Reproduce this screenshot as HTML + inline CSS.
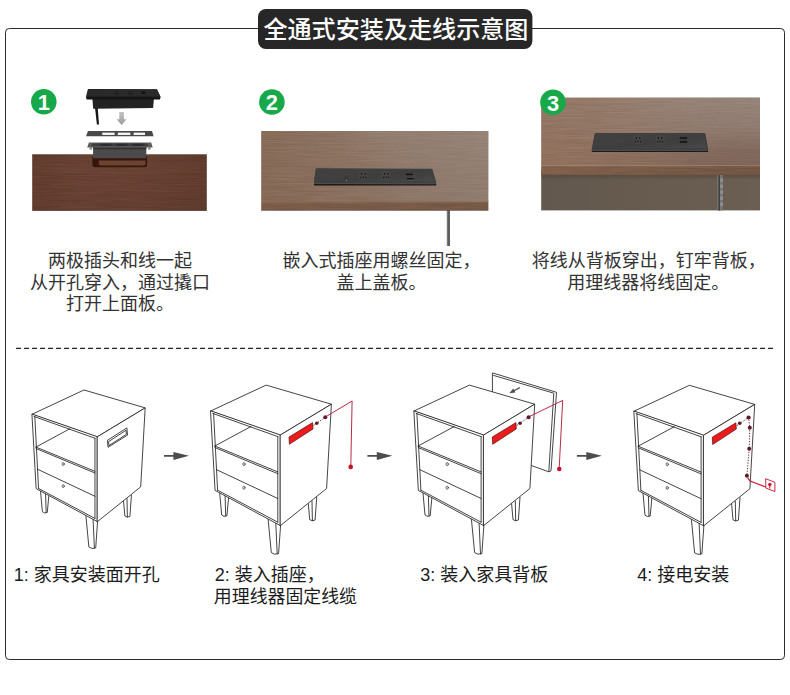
<!DOCTYPE html>
<html lang="zh-CN">
<head>
<meta charset="utf-8">
<title>全通式安装及走线示意图</title>
<style>
html,body{margin:0;padding:0;background:#ffffff}
body{width:790px;height:695px;position:relative;overflow:hidden;font-family:"Liberation Sans",sans-serif}
svg.art{position:absolute;left:0;top:0;display:block}
svg.art text{font-family:"Liberation Sans","Noto Sans CJK SC",sans-serif}
</style>
</head>
<body>
<svg class="art" width="790" height="695" viewBox="0 0 790 695" role="img" aria-label="全通式安装及走线示意图">
<defs>
<filter id="grain" x="0" y="0" width="100%" height="100%">
  <feTurbulence type="fractalNoise" baseFrequency="0.03 1.3" numOctaves="2" seed="7" result="n"/>
  <feColorMatrix in="n" type="matrix" values="0 0 0 0 0  0 0 0 0 0  0 0 0 0 0  1.4 0 0 0 -0.45"/>
  <feComposite in2="SourceGraphic" operator="in"/>
</filter>
<filter id="grainL" x="0" y="0" width="100%" height="100%">
  <feTurbulence type="fractalNoise" baseFrequency="0.02 1.1" numOctaves="2" seed="23" result="n"/>
  <feColorMatrix in="n" type="matrix" values="0 0 0 0 1  0 0 0 0 1  0 0 0 0 1  0 1.4 0 0 -0.45"/>
  <feComposite in2="SourceGraphic" operator="in"/>
</filter>
<filter id="soft" x="-10%" y="-10%" width="120%" height="120%"><feGaussianBlur stdDeviation="0.45"/></filter>
<filter id="soft2" x="-10%" y="-30%" width="120%" height="160%"><feGaussianBlur stdDeviation="0.9"/></filter>
<linearGradient id="w1" x1="0" y1="0" x2="1" y2="0">
  <stop offset="0" stop-color="#643d2e"/><stop offset="0.3" stop-color="#6b4233"/>
  <stop offset="0.65" stop-color="#6a4132"/><stop offset="1" stop-color="#623c2d"/>
</linearGradient>
<linearGradient id="w1v" x1="0" y1="0" x2="0" y2="1">
  <stop offset="0" stop-color="#000" stop-opacity="0.05"/><stop offset="0.2" stop-color="#000" stop-opacity="0"/>
  <stop offset="1" stop-color="#000" stop-opacity="0.04"/>
</linearGradient>
<linearGradient id="w2" x1="0" y1="0" x2="1" y2="0">
  <stop offset="0" stop-color="#866854"/><stop offset="0.35" stop-color="#8a6e5c"/><stop offset="0.65" stop-color="#90796a"/><stop offset="1" stop-color="#937f72"/>
</linearGradient>
<linearGradient id="w2e" x1="0" y1="0" x2="1" y2="0">
  <stop offset="0" stop-color="#7f604c"/><stop offset="1" stop-color="#7a5c48"/>
</linearGradient>
<linearGradient id="w3" x1="0" y1="0" x2="1" y2="0">
  <stop offset="0" stop-color="#91705c"/><stop offset="0.45" stop-color="#8c6e5c"/><stop offset="0.7" stop-color="#856a5c"/><stop offset="1" stop-color="#82695c"/>
</linearGradient>
<linearGradient id="w3e" x1="0" y1="0" x2="1" y2="0">
  <stop offset="0" stop-color="#86644f"/><stop offset="0.5" stop-color="#7f5f4b"/><stop offset="1" stop-color="#785a47"/>
</linearGradient>
<linearGradient id="w3b" x1="0" y1="0" x2="1" y2="0">
  <stop offset="0" stop-color="#63584d"/><stop offset="0.6" stop-color="#685c50"/><stop offset="1" stop-color="#6b5f53"/>
</linearGradient>
<linearGradient id="fadeL" x1="0" y1="0" x2="1" y2="0">
  <stop offset="0" stop-color="#fff" stop-opacity="1"/><stop offset="0.45" stop-color="#fff" stop-opacity="0.8"/><stop offset="0.8" stop-color="#fff" stop-opacity="0"/>
</linearGradient>
<linearGradient id="shd" x1="0" y1="0" x2="0" y2="1">
  <stop offset="0" stop-color="#2a201a" stop-opacity="0.25"/><stop offset="1" stop-color="#2a201a" stop-opacity="0"/>
</linearGradient>
<linearGradient id="tone" x1="0" y1="0" x2="0" y2="1">
  <stop offset="0" stop-color="#a89a90" stop-opacity="0.62"/><stop offset="0.45" stop-color="#a89a90" stop-opacity="0.42"/>
  <stop offset="0.8" stop-color="#a89a90" stop-opacity="0.05"/><stop offset="1" stop-color="#a89a90" stop-opacity="0"/>
</linearGradient>
<linearGradient id="tone2" x1="0" y1="0" x2="0" y2="1">
  <stop offset="0" stop-color="#a39488" stop-opacity="0.40"/><stop offset="0.5" stop-color="#a39488" stop-opacity="0.16"/>
  <stop offset="1" stop-color="#a39488" stop-opacity="0"/>
</linearGradient>
<linearGradient id="mHg" x1="0" y1="0" x2="1" y2="0">
  <stop offset="0" stop-color="#fff" stop-opacity="0.18"/><stop offset="0.3" stop-color="#fff" stop-opacity="0.45"/>
  <stop offset="0.7" stop-color="#fff" stop-opacity="0.95"/><stop offset="1" stop-color="#fff" stop-opacity="1"/>
</linearGradient>
<mask id="mH3" maskUnits="userSpaceOnUse" x="541" y="97" width="220" height="70"><rect x="541" y="97" width="220" height="70" fill="url(#mHg)"/></mask>
<mask id="mH2" maskUnits="userSpaceOnUse" x="261" y="130" width="228" height="73"><rect x="261" y="130" width="228" height="73" fill="url(#mHg)"/></mask>
<linearGradient id="edgeV" x1="0" y1="0" x2="0" y2="1">
  <stop offset="0" stop-color="#ffe6d0" stop-opacity="0.14"/><stop offset="0.25" stop-color="#ffe6d0" stop-opacity="0"/>
  <stop offset="0.8" stop-color="#000" stop-opacity="0"/><stop offset="1" stop-color="#000" stop-opacity="0.10"/>
</linearGradient>
<linearGradient id="arr" x1="0" y1="0" x2="0" y2="1">
  <stop offset="0" stop-color="#c4c4c4"/><stop offset="1" stop-color="#9a9a9a"/>
</linearGradient>
<linearGradient id="sk" x1="0" y1="0" x2="1" y2="1">
  <stop offset="0" stop-color="#414141"/><stop offset="0.55" stop-color="#3e3e3e"/><stop offset="1" stop-color="#494949"/>
</linearGradient>

<g id="cab" fill="none" stroke="#232323" stroke-width="0.85" stroke-linejoin="round" stroke-linecap="round" vector-effect="non-scaling-stroke"><path d="M219.7 493.0 L221.7 515.0 L224.0 516.3 L226.9 515.8 L228.6 497.6" fill="#fff" vector-effect="non-scaling-stroke"/><path d="M225.1 496.2 L225.7 516.0" fill="none" vector-effect="non-scaling-stroke"/><path d="M308.3 503.6 L309.7 519.6 L312.4 520.8 L315.1 520.0 L316.7 497.4" fill="#fff" vector-effect="non-scaling-stroke"/><path d="M312.0 501.0 L312.4 520.6" fill="none" vector-effect="non-scaling-stroke"/><path d="M268.1 519.0 L271.3 552.6 L274.6 554.2 L278.6 553.6 L280.6 525.0" fill="#fff" vector-effect="non-scaling-stroke"/><path d="M275.8 523.0 L277.2 554.0" fill="none" vector-effect="non-scaling-stroke"/><path d="M210.9 410.9 L266.1 385.1 L331.4 404.2 L280.4 435.0 Z" fill="#fff" vector-effect="non-scaling-stroke"/><path d="M210.9 410.9 L280.4 435.0 L280.4 525.6 L215.4 490.6 Z" fill="#fff" vector-effect="non-scaling-stroke"/><path d="M280.4 435.0 L331.4 404.2 L326.6 488.5 L280.4 525.6 Z" fill="#fff" vector-effect="non-scaling-stroke"/><path d="M212.8 413.4 L277.8 436.6" fill="none" vector-effect="non-scaling-stroke"/><path d="M213.6 413.4 L217.6 490.2" fill="none" vector-effect="non-scaling-stroke"/><path d="M277.8 436.6 L277.8 522.2" fill="none" vector-effect="non-scaling-stroke"/><path d="M214.8 446.0 L277.8 471.9" fill="none" vector-effect="non-scaling-stroke"/><path d="M215.0 447.6 L277.8 473.7" fill="none" vector-effect="non-scaling-stroke"/><path d="M214.8 446.0 L251.0 426.5" fill="none" vector-effect="non-scaling-stroke"/><path d="M216.4 469.6 L277.8 498.5" fill="none" vector-effect="non-scaling-stroke"/><path d="M217.6 490.2 L277.8 522.2" fill="none" vector-effect="non-scaling-stroke"/><ellipse cx="243.9" cy="464.1" rx="1.15" ry="1.55" stroke-width="0.65" fill="#fff" vector-effect="non-scaling-stroke"/><ellipse cx="243.9" cy="487.7" rx="1.15" ry="1.55" stroke-width="0.65" fill="#fff" vector-effect="non-scaling-stroke"/></g><path id="step" d="M164 455.1 H173.4 V452 L189 455.8 L173.4 459.9 V456.8 H164 Z" fill="#4d4d4d"/>
</defs>
<rect x="5.5" y="28.5" width="779" height="631" rx="3.8" ry="3.8" fill="#fff" stroke="#2b2b2b" stroke-width="1"/>
<rect x="258" y="9" width="274.4" height="40" rx="8" ry="8" fill="#272727"/>
<text x="263.4" y="38.3" font-size="24.1" font-weight="500" fill="#ffffff">全通式安装及走线示意图</text>
<g id="panels"><g><rect x="32.2" y="154.3" width="174.6" height="56.6" fill="url(#w1)"/><rect x="32.2" y="154.3" width="174.6" height="56.6" fill="#2a120a" filter="url(#grain)" opacity="0.11"/><rect x="32.2" y="154.3" width="174.6" height="56.6" fill="#fff" filter="url(#grainL)" opacity="0.05"/><rect x="32.2" y="154.3" width="174.6" height="56.6" fill="url(#w1v)"/></g><path d="M92.4 156 H147.1 V164.4 Q147.1 167.2 144.2 167.2 H95.4 Q92.4 167.2 92.4 164.4 Z" fill="#34190f" filter="url(#soft)"/><path d="M98.8 160.4 H145.6 V163.4 Q145.6 165.5 143.4 165.5 H100.6 Q98.8 165.5 98.8 163.6 Z" fill="#6c4232" filter="url(#soft)"/><g filter="url(#soft)"><rect x="93.1" y="146.8" width="53.2" height="11.4" fill="#4b4b4b"/><rect x="93.1" y="146.8" width="53.2" height="2.6" fill="#333"/><path d="M88.9 142.4 H151.2 L152.7 147.4 H87.2 Z" fill="#5c5c5c"/><path d="M92 143.6 H147.5 L148 146.2 H91.6 Z" fill="#3e3e3e"/><rect x="100.5" y="143.8" width="11" height="2" fill="#2c2c2c"/><rect x="116.5" y="143.8" width="11" height="2" fill="#2c2c2c"/><rect x="132.5" y="143.8" width="11" height="2" fill="#2c2c2c"/><rect x="89.5" y="147.2" width="2.6" height="2.4" fill="#8a8a8a"/><rect x="148" y="147.2" width="2.6" height="2.4" fill="#8a8a8a"/></g><g filter="url(#soft)"><path d="M88 131 H152 L153.6 136.3 H86 Z" fill="#484848"/><rect x="102.3" y="132.6" width="12.3" height="2.4" fill="#f2f2f2"/><rect x="117.8" y="132.6" width="12.6" height="2.4" fill="#f2f2f2"/><rect x="133.6" y="132.6" width="11.4" height="2.4" fill="#f2f2f2"/></g><path d="M119.3 112.1 H123.9 V119.3 H126.6 L121.6 124.9 L116.6 119.3 H119.3 Z" fill="url(#arr)" filter="url(#soft)"/><g filter="url(#soft)"><path d="M95 107.6 L97.7 107.6 L99 124.4 L96.9 124.6 Z" fill="#141414"/><path d="M92.4 98.6 H153.9 L153.1 108 L93.2 108.8 Z" fill="#202020"/><path d="M88 89.1 L157 89.3 L160.7 96.9 L159.8 99.6 H86.6 L86 96.9 Z" fill="#171717"/><path d="M88.3 89.3 L156.8 89.5 L160.2 96.6 H86.4 Z" fill="#2a2a2a"/><rect x="115.14" y="91.19" width="0.62" height="1.12" fill="#0c0c0c"/><rect x="117.24" y="91.19" width="0.62" height="1.12" fill="#0c0c0c"/><rect x="116.19" y="93.17" width="0.62" height="0.99" fill="#0c0c0c"/><rect x="114.70" y="93.42" width="0.56" height="1.05" fill="#0c0c0c" transform="rotate(25 115.01 93.92)"/><rect x="117.74" y="93.42" width="0.56" height="1.05" fill="#0c0c0c" transform="rotate(-25 117.99 93.92)"/><rect x="129.14" y="91.19" width="0.62" height="1.12" fill="#0c0c0c"/><rect x="131.24" y="91.19" width="0.62" height="1.12" fill="#0c0c0c"/><rect x="130.19" y="93.17" width="0.62" height="0.99" fill="#0c0c0c"/><rect x="128.70" y="93.42" width="0.56" height="1.05" fill="#0c0c0c" transform="rotate(25 129.01 93.92)"/><rect x="131.74" y="93.42" width="0.56" height="1.05" fill="#0c0c0c" transform="rotate(-25 131.99 93.92)"/><rect x="141.5" y="91.8" width="4" height="1.8" rx="0.5" fill="#0c0c0c"/></g><circle cx="43.8" cy="101.8" r="12.8" fill="#16a849"/><text x="43.8" y="110.1" font-size="21.8" font-weight="bold" fill="#ffffff" text-anchor="middle">1</text><rect x="446.9" y="209" width="3.1" height="37" fill="#5e5e5e"/><rect x="446.9" y="209" width="1.0" height="37" fill="#7c7c7c"/><rect x="261.2" y="131" width="227.2" height="71" fill="url(#w2)"/><rect x="261.2" y="131" width="227.2" height="71" fill="url(#tone2)" mask="url(#mH2)"/><rect x="261.2" y="131" width="227.2" height="71" fill="#3a2218" filter="url(#grain)" opacity="0.08"/><rect x="261.2" y="131" width="226.8" height="72" fill="url(#fadeL)" filter="url(#grainL)" opacity="0.10"/><rect x="261.2" y="201.4" width="227.2" height="9.3" fill="url(#w2e)"/><rect x="261.2" y="201.4" width="227.2" height="9.3" fill="#2a120a" filter="url(#grain)" opacity="0.14"/><rect x="261.2" y="201.4" width="227.2" height="9.3" fill="url(#edgeV)"/><g filter="url(#soft)"><path d="M316.6 170.8 L431.6 171.4 L435.4 184.7 L314.8 184.5 Z" fill="#1b1b1b" stroke="#1b1b1b" stroke-width="1.8" stroke-linejoin="round"/><path d="M316.6 169.6 L431.6 170.2 L435.1 183.4 L315.1 183.2 Z" fill="#5a5a5a" stroke="#5a5a5a" stroke-width="1.8" stroke-linejoin="round"/><path d="M316.6 169.1 L431.6 169.7 L435.4 182.7 L314.8 182.5 Z" fill="url(#sk)" stroke="#3f3f3f" stroke-width="1.8" stroke-linejoin="round"/><circle cx="346.4" cy="177.4" r="1.7" fill="#383838"/><circle cx="346.6" cy="180.4" r="0.5" fill="#b5b5b5"/><rect x="358.9" y="171.1" width="9" height="8.6" rx="1.6" fill="#454545"/><rect x="361.09" y="172.87" width="1.05" height="1.89" fill="#151515"/><rect x="364.66" y="172.87" width="1.05" height="1.89" fill="#151515"/><rect x="362.88" y="176.23" width="1.05" height="1.68" fill="#151515"/><rect x="360.35" y="176.65" width="0.95" height="1.78" fill="#151515" transform="rotate(25 360.88 177.49)"/><rect x="365.50" y="176.65" width="0.95" height="1.78" fill="#151515" transform="rotate(-25 365.92 177.49)"/><rect x="381.7" y="171.1" width="9" height="8.6" rx="1.6" fill="#454545"/><rect x="383.89" y="172.87" width="1.05" height="1.89" fill="#151515"/><rect x="387.46" y="172.87" width="1.05" height="1.89" fill="#151515"/><rect x="385.68" y="176.23" width="1.05" height="1.68" fill="#151515"/><rect x="383.15" y="176.65" width="0.95" height="1.78" fill="#151515" transform="rotate(25 383.68 177.49)"/><rect x="388.30" y="176.65" width="0.95" height="1.78" fill="#151515" transform="rotate(-25 388.72 177.49)"/><rect x="405.8" y="173.5" width="7.0" height="1.7" rx="0.5" fill="#161616"/><rect x="406.8" y="177.9" width="7.0" height="1.8" rx="0.5" fill="#161616"/><rect x="406.8" y="179.7" width="7.0" height="0.6" fill="#5c5c5c"/></g><circle cx="271.9" cy="102.0" r="12.8" fill="#16a849"/><text x="271.9" y="110.3" font-size="21.8" font-weight="bold" fill="#ffffff" text-anchor="middle">2</text><rect x="541.2" y="170" width="218.8" height="40.4" fill="url(#w3b)"/><rect x="541.2" y="175" width="218.8" height="5" fill="url(#shd)"/><rect x="541.2" y="97.6" width="218.8" height="68" fill="url(#w3)"/><rect x="541.2" y="97.6" width="218.8" height="68" fill="url(#tone)" mask="url(#mH3)"/><rect x="541.2" y="98" width="218.8" height="67.6" fill="#3a2218" filter="url(#grain)" opacity="0.08"/><rect x="541.2" y="97.6" width="218.8" height="68" fill="url(#fadeL)" filter="url(#grainL)" opacity="0.10"/><rect x="541.2" y="165.4" width="218.8" height="9.7" fill="url(#w3e)"/><rect x="541.2" y="165.4" width="218.8" height="9.7" fill="#2a120a" filter="url(#grain)" opacity="0.14"/><rect x="541.2" y="165.4" width="218.8" height="9.7" fill="url(#edgeV)" opacity="0.6"/><g filter="url(#soft)"><rect x="717.2" y="175" width="5.6" height="35.4" fill="#777674"/><rect x="718.4" y="175" width="1.6" height="35.4" fill="#3f3f3f"/><rect x="720.2" y="178.5" width="2.8" height="3.4" fill="#8d9092"/><rect x="720.2" y="184.5" width="2.8" height="3.4" fill="#8d9092"/><rect x="720.2" y="190.5" width="2.8" height="3.4" fill="#8d9092"/><rect x="720.2" y="196.5" width="2.8" height="3.4" fill="#8d9092"/><rect x="720.2" y="202.5" width="2.8" height="3.4" fill="#8d9092"/></g><g filter="url(#soft)"><path d="M595.6 135.7 L704.4 135.7 L707.2 151.1 L592.6 151.1 Z" fill="#1b1b1b" stroke="#1b1b1b" stroke-width="1.8" stroke-linejoin="round"/><path d="M595.6 134.5 L704.4 134.5 L706.9 149.8 L592.9 149.8 Z" fill="#5a5a5a" stroke="#5a5a5a" stroke-width="1.8" stroke-linejoin="round"/><path d="M595.6 134.0 L704.4 134.0 L707.2 149.1 L592.6 149.1 Z" fill="url(#sk)" stroke="#3f3f3f" stroke-width="1.8" stroke-linejoin="round"/><rect x="633.5" y="135.3" width="9" height="8.6" rx="1.6" fill="#454545"/><rect x="635.69" y="137.07" width="1.05" height="1.89" fill="#151515"/><rect x="639.26" y="137.07" width="1.05" height="1.89" fill="#151515"/><rect x="637.48" y="140.43" width="1.05" height="1.68" fill="#151515"/><rect x="634.96" y="140.85" width="0.95" height="1.78" fill="#151515" transform="rotate(25 635.48 141.69)"/><rect x="640.10" y="140.85" width="0.95" height="1.78" fill="#151515" transform="rotate(-25 640.52 141.69)"/><rect x="655.7" y="135.3" width="9" height="8.6" rx="1.6" fill="#454545"/><rect x="657.89" y="137.07" width="1.05" height="1.89" fill="#151515"/><rect x="661.46" y="137.07" width="1.05" height="1.89" fill="#151515"/><rect x="659.68" y="140.43" width="1.05" height="1.68" fill="#151515"/><rect x="657.16" y="140.85" width="0.95" height="1.78" fill="#151515" transform="rotate(25 657.68 141.69)"/><rect x="662.30" y="140.85" width="0.95" height="1.78" fill="#151515" transform="rotate(-25 662.72 141.69)"/><rect x="679.8" y="136.9" width="7.4" height="2.2" rx="0.5" fill="#1c1c1c"/><rect x="679.8" y="140.8" width="7.4" height="2.3" rx="0.5" fill="#1c1c1c"/></g><circle cx="553.0" cy="102.2" r="12.8" fill="#16a849"/><text x="553.0" y="110.5" font-size="21.8" font-weight="bold" fill="#ffffff" text-anchor="middle">3</text></g>
<text x="48" y="267.3" font-size="18" fill="#333333">两极插头和线一起</text>
<text x="30" y="288.8" font-size="18" fill="#333333">从开孔穿入，通过撬口</text>
<text x="66" y="310.3" font-size="18" fill="#333333">打开上面板。</text>
<text x="282.4" y="267.3" font-size="18" fill="#333333">嵌入式插座用螺丝固定，</text>
<text x="336.4" y="289" font-size="18" fill="#333333">盖上盖板。</text>
<text x="531.7" y="267.3" font-size="18" fill="#333333">将线从背板穿出，钉牢背板，</text>
<text x="567.2" y="289.2" font-size="18" fill="#333333">用理线器将线固定。</text>
<line x1="16" y1="348.4" x2="773.2" y2="348.4" stroke="#222" stroke-width="1.3" stroke-dasharray="5 3"/>
<g id="cabinets"><use href="#cab" transform="translate(84.0 390.0) scale(0.937) translate(-266.1 -385.1)"/><g fill="none" stroke="#232323" stroke-width="0.85" stroke-linejoin="round"><path d="M107.5 440.3 L126.9 427.9 L127.5 435.1 L108.0 447.3 Z"/><path d="M108.6 441.6 L126.0 430.3 L126.4 434.4 L108.9 445.6 Z"/></g><use href="#step"/><use href="#cab"/><path d="M289.0 437.0 L312.6 422.6 L313.0 428.9 L289.4 444.3 Z" fill="#e91b1d" stroke="#5a0d10" stroke-width="0.7" stroke-linejoin="round"/><path d="M313.6 425.4 L325.3 417.2" stroke="#5e1828" stroke-width="0.95" stroke-dasharray="1.2 1.5" fill="none"/><circle cx="316.7" cy="423.2" r="1.75" fill="#5e1828"/><circle cx="325.3" cy="417.2" r="2.00" fill="#5e1828"/><path d="M326.4 416.4 L352.1 401.0 L350.8 466.0" fill="none" stroke="#b3203a" stroke-width="0.95" stroke-linejoin="miter"/><circle cx="350.7" cy="466.9" r="2.30" fill="#c3142c"/><use href="#step" transform="translate(203.4 0)"/><g fill="#fff" stroke="#232323" stroke-width="0.85" stroke-linejoin="round"><path d="M492.4 372.9 L556.5 392.3 L551.0 470.9 L548.8 471.8 L526.0 463.6 L526.0 420.0 L492.4 402.0 Z"/><path d="M493.2 375.3 L553.8 393.2 L548.8 471.8" fill="none"/></g><path d="M519.8 387.6 L513.0 391.2" stroke="#4e4e4e" stroke-width="1.3" fill="none"/><path d="M509.4 393.2 L513.2 388.4 L515.4 392.6 Z" fill="#4e4e4e"/><use href="#cab" transform="translate(203.3 0)"/><path d="M492.3 437.0 L515.9 422.6 L516.3 428.9 L492.7 444.3 Z" fill="#e91b1d" stroke="#5a0d10" stroke-width="0.7" stroke-linejoin="round"/><path d="M516.9 425.4 L528.6 417.2" stroke="#5e1828" stroke-width="0.95" stroke-dasharray="1.2 1.5" fill="none"/><circle cx="520.0" cy="423.2" r="1.75" fill="#5e1828"/><circle cx="528.6" cy="417.2" r="2.00" fill="#5e1828"/><path d="M529.7 416.4 L562.7 400.4 L559.2 468.0" fill="none" stroke="#b3203a" stroke-width="0.95"/><circle cx="559.3" cy="469.0" r="2.30" fill="#c3142c"/><use href="#step" transform="translate(412.9 0)"/><use href="#cab" transform="translate(423.3 0.2)"/><path d="M712.3 437.2 L735.9 422.8 L736.3 429.1 L712.7 444.5 Z" fill="#e91b1d" stroke="#5a0d10" stroke-width="0.7" stroke-linejoin="round"/><path d="M736.9 425.6 L748.6 417.5 L749.8 427.7 L749.2 448.8 L746.9 475.8" stroke="#5e1828" stroke-width="0.95" stroke-dasharray="1.2 1.5" fill="none"/><circle cx="739.7" cy="423.2" r="1.80" fill="#5e1828"/><circle cx="748.6" cy="417.5" r="2.10" fill="#5e1828"/><circle cx="749.8" cy="427.7" r="2.00" fill="#5e1828"/><circle cx="749.2" cy="448.8" r="2.00" fill="#5e1828"/><circle cx="746.9" cy="475.8" r="2.00" fill="#5e1828"/><path d="M747.6 477.6 L750.1 481.1 L770.0 488.5" fill="none" stroke="#c3182f" stroke-width="1.15"/><path d="M765.6 478.7 L774.9 482.3 L774.9 491.5 L765.9 488.1 Z" fill="#fff" stroke="#c3142c" stroke-width="0.9" stroke-linejoin="round"/><path d="M769.8 485.2 L769.8 488.6" stroke="#c3142c" stroke-width="1.0" fill="none"/><circle cx="769.8" cy="484.6" r="1.75" fill="#d3142c"/></g>
<text x="13.8" y="580.6" font-size="18" fill="#1c1c1c">1: 家具安装面开孔</text>
<text x="214.8" y="580.6" font-size="18" fill="#1c1c1c">2: 装入插座，</text>
<text x="213.85" y="602.6" font-size="17.9" fill="#1c1c1c">用理线器固定线缆</text>
<text x="420.2" y="580.6" font-size="18" fill="#1c1c1c">3: 装入家具背板</text>
<text x="637.2" y="580.6" font-size="18" fill="#1c1c1c">4: 接电安装</text>
</svg>
</body>
</html>
